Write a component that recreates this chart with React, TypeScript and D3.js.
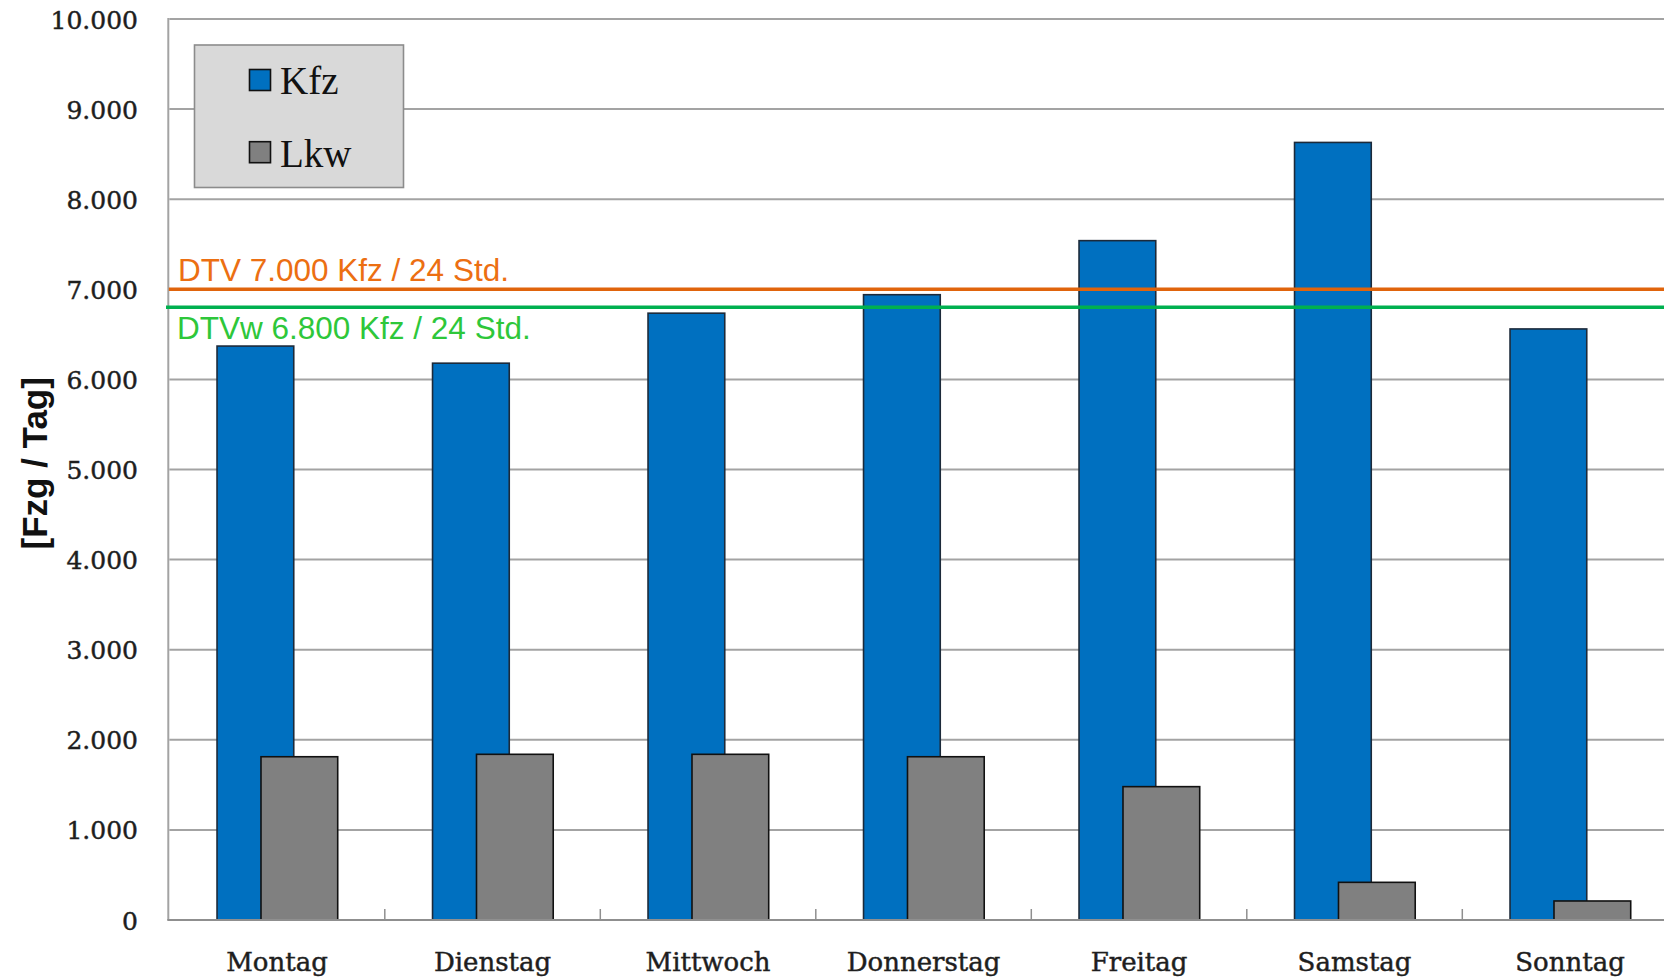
import React from "react";
import * as d3 from "d3";

// Daily traffic volumes per weekday
const days = ["Montag", "Dienstag", "Mittwoch", "Donnerstag", "Freitag", "Samstag", "Sonntag"];
const kfz = [6370, 6180, 6735, 6940, 7540, 8630, 6560];
const lkw = [1812, 1839, 1839, 1812, 1480, 418, 211];
const yTicks = [0, 1000, 2000, 3000, 4000, 5000, 6000, 7000, 8000, 9000, 10000];
const seriesNames = ["Kfz", "Lkw"];
const seriesColors = ["#0070c0", "#808080"];

// Reference lines
const dtv = 7000;
const dtvLabel = "DTV 7.000 Kfz / 24 Std.";
const dtvw = 6800;
const dtvwLabel = "DTVw 6.800 Kfz / 24 Std.";

const W = 1664;
const H = 979;
const plot = { left: 169.3, right: 1677.8, top: 19, bottom: 920 };

const fmt = (v: number) => d3.format(",")(v).replace(/,/g, ".");

export default function App() {
  const x = d3.scaleBand<string>().domain(days).range([plot.left, plot.right]).paddingInner(0).paddingOuter(0);
  const y = d3.scaleLinear().domain([0, 10000]).range([plot.bottom, plot.top]);
  const bw = x.bandwidth();
  const barW = bw * 0.356;
  const offsets = [bw * 0.2215, bw * 0.2215 + bw * 0.204];
  const values = [kfz, lkw];

  const serif = "'DejaVu Serif', serif";
  const sans = "'Liberation Sans', Arial, sans-serif";
  const gridColor = "#a3a3a3";

  return (
    <svg width={W} height={H} style={{ position: "absolute", left: 0, top: 0, background: "#fff" }}>
      <rect x={0} y={0} width={W} height={H} fill="#ffffff" />
      {/* horizontal gridlines */}
      {yTicks.slice(1).map((t) => (
        <line key={t} x1={plot.left} x2={plot.right} y1={y(t)} y2={y(t)} stroke={gridColor} strokeWidth={2} />
      ))}
      {/* value axis line */}
      <line x1={plot.left - 1} x2={plot.left - 1} y1={y(10000) - 1} y2={plot.bottom} stroke={gridColor} strokeWidth={2} />
      {/* y tick labels */}
      {yTicks.map((t) => (
        <text key={t} x={138} y={y(t) + 9.5} textAnchor="end" fontFamily={serif} fontSize={25} fill="#1e1e1e" stroke="#1e1e1e" strokeWidth={0.45}>
          {fmt(t)}
        </text>
      ))}
      {/* bars */}
      {values.map((vals, si) =>
        days.map((d, i) => (
          <rect
            key={d + si}
            x={(x(d) as number) + offsets[si]}
            y={y(vals[i])}
            width={barW}
            height={plot.bottom - y(vals[i])}
            fill={seriesColors[si]}
            stroke={si === 0 ? "#1c2a3a" : "#111"}
            strokeWidth={1.6}
          />
        ))
      )}
      {/* category axis */}
      <line x1={plot.left - 2} x2={plot.right} y1={plot.bottom} y2={plot.bottom} stroke="#8f8f8f" strokeWidth={2} />
      {days.slice(1).map((d) => (
        <line key={d} x1={x(d) as number} x2={x(d) as number} y1={plot.bottom} y2={plot.bottom - 11} stroke="#8f8f8f" strokeWidth={1.5} />
      ))}
      {days.map((d) => (
        <text key={d} x={(x(d) as number) + bw / 2} y={971} textAnchor="middle" fontFamily={serif} fontSize={26} fill="#1e1e1e" stroke="#1e1e1e" strokeWidth={0.45}>
          {d}
        </text>
      ))}
      {/* reference lines */}
      <line x1={plot.left - 0.5} x2={W} y1={y(dtv)} y2={y(dtv)} stroke="#e0640c" strokeWidth={3.4} />
      <line x1={166} x2={W} y1={y(dtvw)} y2={y(dtvw)} stroke="#00b050" strokeWidth={3.4} />
      <text x={178} y={y(dtv) - 8} fontFamily={sans} fontSize={31.5} fill="#ec6f12">
        {dtvLabel}
      </text>
      <text x={177} y={y(dtvw) + 31.5} fontFamily={sans} fontSize={31.5} fill="#2ec73a">
        {dtvwLabel}
      </text>
      {/* legend */}
      <rect x={194.5} y={45} width={209} height={142.5} fill="#d9d9d9" stroke="#8c8c8c" strokeWidth={1.6} />
      {seriesNames.map((s, i) => (
        <g key={s}>
          <rect x={249.5} y={69.5 + i * 72.2} width={21} height={21} fill={seriesColors[i]} stroke="#111" strokeWidth={1.6} />
          <text x={280} y={94.3 + i * 72.2} fontFamily="'Liberation Serif', serif" fontSize={39} fill="#111">
            {s}
          </text>
        </g>
      ))}
      {/* axis title */}
      <text
        transform="translate(47.3,463.3) rotate(-90)"
        textAnchor="middle"
        fontFamily={sans}
        fontWeight="bold"
        fontSize={35}
        fill="#111"
      >
        [Fzg / Tag]
      </text>
    </svg>
  );
}
